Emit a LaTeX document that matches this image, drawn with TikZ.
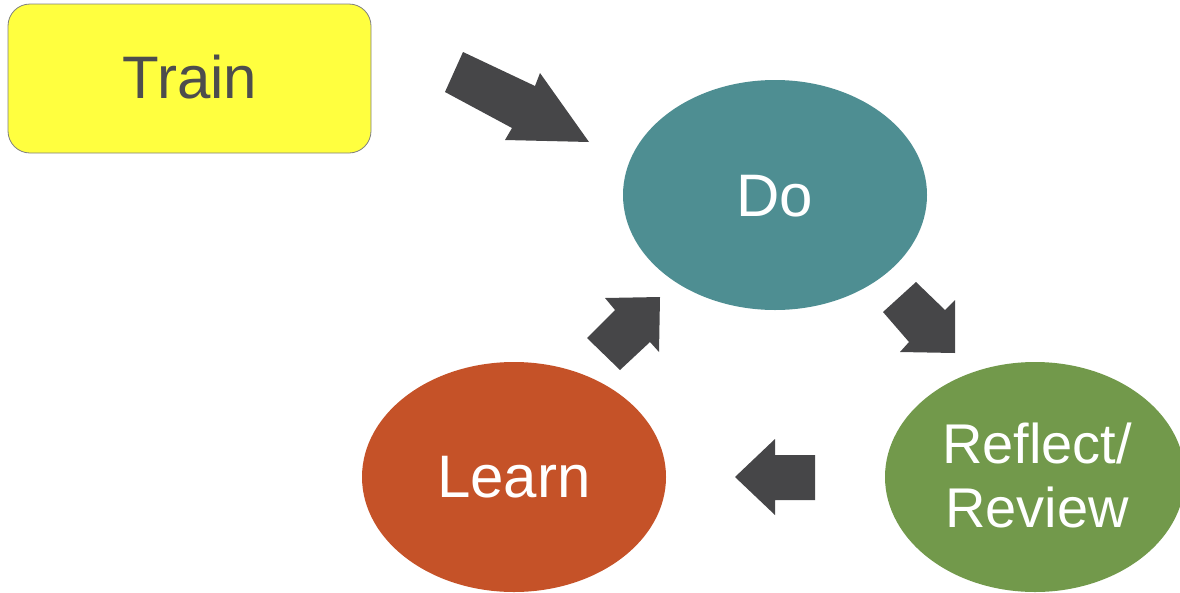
\documentclass[tikz,border=0pt]{standalone}
\usepackage{fontspec}
\setmainfont{Liberation Sans}
\usetikzlibrary{shapes.geometric}
\definecolor{trainfill}{HTML}{FFFF3F}
\definecolor{trainborder}{HTML}{7F7F7F}
\definecolor{traintext}{HTML}{4D4D4D}
\definecolor{doteal}{HTML}{4E8E92}
\definecolor{learnred}{HTML}{C55228}
\definecolor{reviewgreen}{HTML}{72994B}
\definecolor{arrowgray}{HTML}{464648}
\begin{document}
\begin{tikzpicture}[x=1pt,y=-1pt,
  bubble/.style={ellipse, draw=none, inner sep=0pt, minimum width=304pt, minimum height=230pt, text=white},
  blockarrow/.style={fill=arrowgray, draw=none}
]
\useasboundingbox (0,0) rectangle (1180,592);
% Train box
\node[draw=trainborder, line width=0.8pt, fill=trainfill, rounded corners=22pt,
      minimum width=363pt, minimum height=149pt, inner sep=0pt,
      text=traintext, font=\fontsize{60}{60}\selectfont] (train) at (189.5,78.5) {};
\node[anchor=base, text=traintext, font=\fontsize{60}{60}\selectfont, inner sep=0pt] (traintxt) at (190,98) {Train};
% Ellipses
\node[bubble, fill=doteal] (do) at (775,195) {};
\node[anchor=base, text=white, font=\fontsize{60}{60}\selectfont, inner sep=0pt] (dotxt) at (775,216) {Do};
\node[bubble, fill=learnred] (learn) at (514,477) {};
\node[anchor=base, text=white, font=\fontsize{60}{60}\selectfont, inner sep=0pt] (learntxt) at (514,497) {Learn};
\node[bubble, fill=reviewgreen, minimum width=300pt] (review) at (1035,477) {};
\node[anchor=base, text=white, font=\fontsize{56}{56}\selectfont, inner sep=0pt] (reviewtxt1) at (1037,463) {Reflect/};
\node[anchor=base, text=white, font=\fontsize{56}{56}\selectfont, inner sep=0pt] (reviewtxt2) at (1037,527) {Review};
% Block arrows
\fill[blockarrow] (463,52) -- (535,86) -- (540,73) -- (589,142) -- (505,140) -- (512,128) -- (445,92) -- cycle;
\fill[blockarrow] (883,312) -- (916,282) -- (945,310) -- (955,300) -- (955,353) -- (900,352) -- (909,342) -- cycle;
\fill[blockarrow] (660,297) -- (605,298) -- (615,310) -- (587,338) -- (620,370) -- (650,342) -- (659,352) -- cycle;
\fill[blockarrow] (735,477) -- (775,439) -- (775,455) -- (815,455) -- (815,500) -- (775,500) -- (775,515) -- cycle;
\end{tikzpicture}
\end{document}
